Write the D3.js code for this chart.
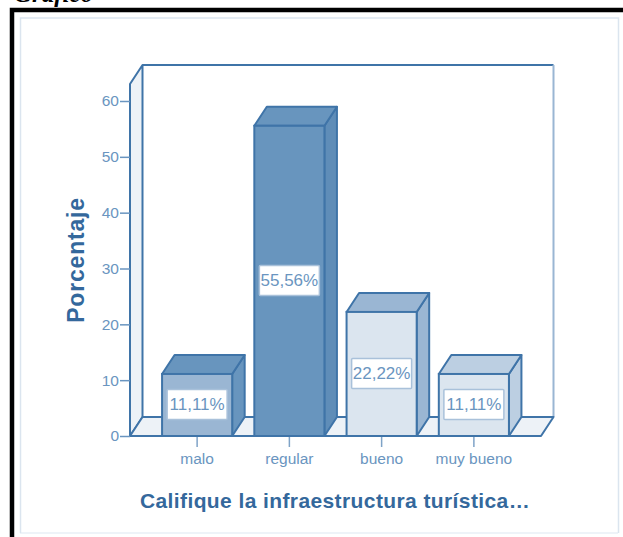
<!DOCTYPE html>
<html><head><meta charset="utf-8">
<script src="https://cdn.jsdelivr.net/npm/d3@7"></script>
<style>html,body{margin:0;padding:0;background:#fff}svg{display:block}text{font-family:"Liberation Sans",Arial,sans-serif}</style>
</head><body><div id="c"></div>
<script>
const categories = ["malo","regular","bueno","muy bueno"];
const values = [11.11,55.56,22.22,11.11];
const valueLabels = ["11,11%","55,56%","22,22%","11,11%"];
const yTicks = [0,10,20,30,40,50,60];
const frontFill = ["#9ab6d3","#6895be","#dbe5ef","#dbe5ef"];
const topFill = ["#6895be","#6895be","#9ab6d3","#bccfe2"];
const sideFill = ["#6895be","#5f8db8","#9ab6d3","#bccfe2"];
const yTitle = "Porcentaje";
const xTitle = "Califique la infraestructura turística…";
const heading = "Gráfico";
(function(){
const W=623,H=537;
const line="#3f74a8", txt="#6a95c0", bold="#34689c";
const svg=d3.select("#c").append("svg").attr("width",W).attr("height",H);
const y=d3.scaleLinear().domain([0,60]).range([436,101]);
const x=d3.scaleBand().domain(categories).range([151,520]).paddingInner(0.24).paddingOuter(0.12);
const dx=12.5, dy=-19, left=130, right=541, wallTop=84;
const poly=(pts,f,s,w=1.5)=>svg.append("path").attr("d","M"+pts.map(p=>p.join(",")).join("L")+"Z").attr("fill",f).attr("stroke",s).attr("stroke-width",w).attr("stroke-linejoin","round");
svg.append("text").attr("x",14).attr("y",2).style("font-family","Liberation Serif").attr("font-weight","bold").attr("font-style","italic").attr("font-size",25).attr("fill","#000").text(heading);
svg.append("path").attr("d",`M12,${H}V10H${W}`).attr("fill","none").attr("stroke","#000").attr("stroke-width",4.5);
svg.append("path").attr("d",`M20,533H618`).attr("fill","none").attr("stroke","#e9eff6").attr("stroke-width",1.5);
svg.append("path").attr("d",`M20.5,533V18H618.5V533`).attr("fill","none").attr("stroke","#dbe5ef").attr("stroke-width",1.5);
poly([[left,wallTop],[left+dx,wallTop+dy],[left+dx,436+dy],[left,436]],"#edf2f7",line,2);
svg.append("path").attr("d",`M${left+dx},${wallTop+dy}H${right+dx}`).attr("fill","none").attr("stroke",line).attr("stroke-width",2);
svg.append("path").attr("d",`M${right+dx},${wallTop+dy}V${436+dy}`).attr("fill","none").attr("stroke","#9ab6d3").attr("stroke-width",2);
poly([[left,436],[left+dx,436+dy],[right+dx,436+dy],[right,436]],"#edf2f7",line,2);
const ya=svg.append("g").attr("transform",`translate(${left},0)`).call(d3.axisLeft(y).tickValues(yTicks).tickSize(10).tickSizeOuter(0).tickPadding(1));
ya.select(".domain").remove();
ya.selectAll("line").attr("stroke","#6a95c0").attr("stroke-width",1.5);
ya.selectAll("text").attr("fill",txt).attr("font-size",15.5).style("font-family","Liberation Sans");
const xa=svg.append("g").attr("transform","translate(0,436)").call(d3.axisBottom(x).tickSize(11).tickSizeOuter(0).tickPadding(6));
xa.select(".domain").remove();
xa.selectAll("line").attr("stroke","#7fa3c7").attr("stroke-width",1.5);
xa.selectAll("text").attr("fill",txt).attr("font-size",15.5).style("font-family","Liberation Sans");
categories.forEach((c,i)=>{
  const x0=x(c),x1=x0+x.bandwidth(),t=y(values[i]),b=y(0);
  poly([[x1,t],[x1+dx,t+dy],[x1+dx,b+dy],[x1,b]],sideFill[i],line,2);
  poly([[x0,t],[x0+dx,t+dy],[x1+dx,t+dy],[x1,t]],topFill[i],line,2);
  svg.append("rect").attr("x",x0).attr("y",t).attr("width",x.bandwidth()).attr("height",b-t).attr("fill",frontFill[i]).attr("stroke",line).attr("stroke-width",2);
  const cy=(t+b)/2, cx=(x0+x1)/2;
  svg.append("rect").attr("x",cx-30).attr("y",cy-15.5).attr("width",60).attr("height",30).attr("fill","#fff").attr("stroke","#a9c1da").attr("stroke-width",1.5).attr("rx",1);
  svg.append("text").attr("x",cx).attr("y",cy+5.5).attr("text-anchor","middle").attr("font-size",17).attr("fill",txt).text(valueLabels[i]);
});
svg.append("text").attr("transform","translate(84,260) rotate(-90)").attr("text-anchor","middle").attr("font-weight","bold").attr("font-size",23).attr("letter-spacing",0.8).attr("fill",bold).text(yTitle);
svg.append("text").attr("x",335).attr("y",508).attr("text-anchor","middle").attr("font-weight","bold").attr("font-size",21).attr("letter-spacing",0.4).attr("fill",bold).text(xTitle);
})();
</script></body></html>
